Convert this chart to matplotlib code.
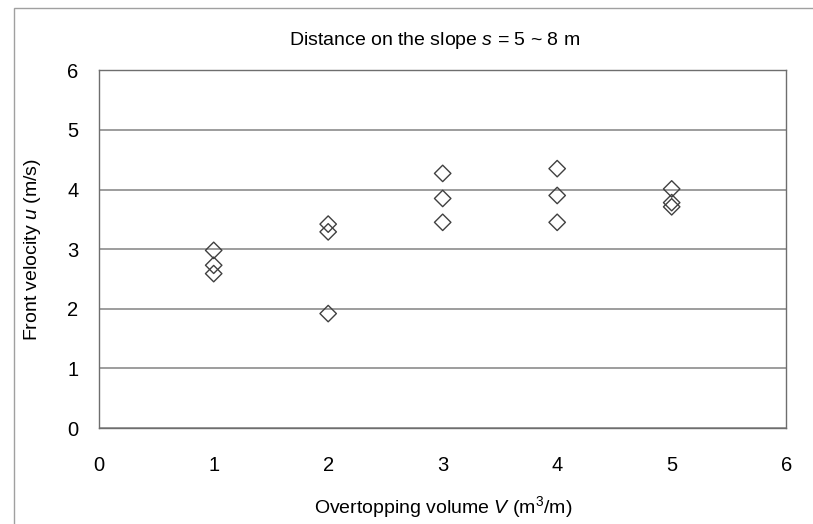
import matplotlib
matplotlib.use('Agg')
from matplotlib import pyplot as plt
from matplotlib.patches import Rectangle

plt.rcParams['font.family'] = ['Liberation Sans', 'DejaVu Sans']
plt.rcParams['mathtext.fontset'] = 'custom'
plt.rcParams['mathtext.rm'] = 'Liberation Sans'
plt.rcParams['mathtext.it'] = 'Liberation Sans:italic'

# Data
volume = [1, 1, 1, 2, 2, 2, 3, 3, 3, 4, 4, 4, 5, 5, 5]
velocity = [2.98, 2.73, 2.59, 3.42, 3.29, 1.92, 4.27, 3.85, 3.45,
            4.35, 3.90, 3.45, 4.01, 3.78, 3.71]
x_ticks = [0, 1, 2, 3, 4, 5, 6]
y_ticks = [0, 1, 2, 3, 4, 5, 6]

fig = plt.figure(figsize=(8.13, 5.24), dpi=100)
ax = fig.add_axes([0.122, 0.183, 0.845, 0.683])

# thin grey frame around the whole chart
fig.patches.append(Rectangle((14 / 813, -0.1), 1.2, 1 - 8 / 524 + 0.1,
                             transform=fig.transFigure, fill=False,
                             edgecolor='#a0a0a0', linewidth=1.0))

ax.scatter(volume, velocity, marker='D', s=70, facecolors='none',
           edgecolors='#404040', linewidths=1.0, zorder=3)

ax.set_xlim(0, 6)
ax.set_ylim(0, 6)
ax.set_xticks(x_ticks)
ax.set_yticks(y_ticks)
ax.tick_params(length=0, labelsize=14.5, colors='black')
ax.tick_params(axis='x', pad=20)
ax.tick_params(axis='y', pad=15)
ax.yaxis.grid(True, color='#8c8c8c', linewidth=1.2)
ax.set_axisbelow(True)
for sp in ax.spines.values():
    sp.set_color('#6e6e6e')
    sp.set_linewidth(1.0)

ax.set_xlabel('Overtopping volume $V$ (m$^3$/m)', fontsize=14, labelpad=14)
ax.set_ylabel('Front velocity $u$ (m/s)', fontsize=14, labelpad=17)
fig.text(0.534, 0.923, 'Distance on the slope $s$ = 5 ~ 8 m', fontsize=14,
         ha='center', va='center')

fig.savefig('out.png', dpi=100)
